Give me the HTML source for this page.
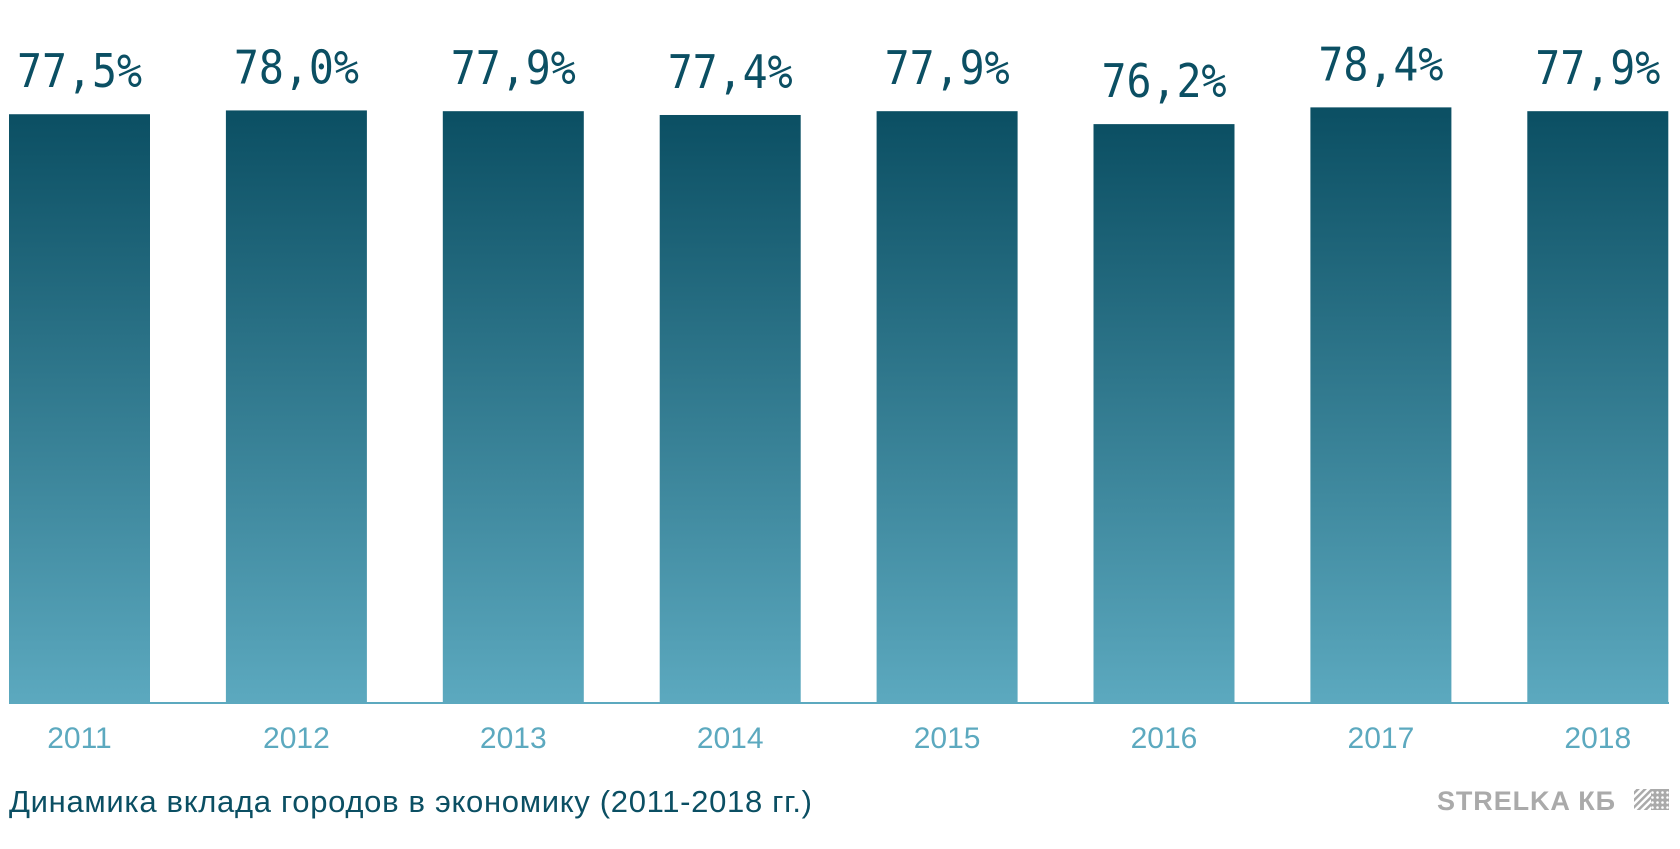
<!DOCTYPE html>
<html><head><meta charset="utf-8"><style>
html,body{margin:0;padding:0;background:#fff;}
svg{display:block;}
</style></head><body>
<svg id="chart" width="1680" height="849" viewBox="0 0 1680 849" xmlns="http://www.w3.org/2000/svg">
<defs>
<linearGradient id="g" x1="0" y1="0" x2="0" y2="1">
<stop offset="0" stop-color="#0b4f63"/>
<stop offset="1" stop-color="#5ca9bf"/>
</linearGradient>
<pattern id="hatch" width="5" height="5" patternUnits="userSpaceOnUse" patternTransform="rotate(45)">
<rect width="2.5" height="5" fill="#aaa"/>
</pattern>
<pattern id="dots" width="5" height="5" patternUnits="userSpaceOnUse">
<rect width="5" height="5" fill="#aaa"/><circle cx="2.5" cy="2.5" r="1.3" fill="#fff"/>
</pattern>
</defs>
<line x1="9" y1="703" x2="1669" y2="703" stroke="#5ca9bf" stroke-width="2"/>
<g id="bars"></g>
<text x="9" y="812" font-family="'Liberation Sans','DejaVu Sans',sans-serif" font-size="31" fill="#0b4f63" textLength="803">Динамика вклада городов в экономику (2011-2018 гг.)</text>
<text x="1437" y="810" font-family="'Liberation Sans','DejaVu Sans',sans-serif" font-weight="bold" font-size="27" fill="#aaa" textLength="178">STRELKA КБ</text>
<g>
<rect x="1634" y="789" width="17" height="21" fill="url(#hatch)"/>
<rect x="1651" y="789" width="18" height="21" fill="url(#dots)"/>
</g>
</svg>
<script>
const categories = ["2011","2012","2013","2014","2015","2016","2017","2018"];
const values = [77.5,78.0,77.9,77.4,77.9,76.2,78.4,77.9];
const valueLabels = ["77,5%","78,0%","77,9%","77,4%","77,9%","76,2%","78,4%","77,9%"];
const NS="http://www.w3.org/2000/svg";
const baseY=704, pxPerUnit=7.61, x0=9, pitch=216.9, bw=141;
const yScale=v=>baseY-v*pxPerUnit;
const xScale=i=>x0+i*pitch;
const g=document.getElementById('bars');
categories.forEach((c,i)=>{
  const x=xScale(i), y=yScale(values[i]);
  const r=document.createElementNS(NS,'rect');
  
  
  r.setAttribute('x',x);r.setAttribute('y',y);r.setAttribute('width',bw);r.setAttribute('height',baseY-y);
  r.setAttribute('fill','url(#g)');
  g.appendChild(r);
  const t=document.createElementNS(NS,'text');
  
  
  t.setAttribute('x',x+bw/2);t.setAttribute('y',y-27);
  t.setAttribute('text-anchor','middle');
  t.setAttribute('font-family',"'DejaVu Sans Mono','Liberation Mono',monospace");
  t.setAttribute('font-size','46');
  t.setAttribute('fill','#0b4f63');
  t.setAttribute('textLength','125');
  t.setAttribute('lengthAdjust','spacingAndGlyphs');
  t.textContent=valueLabels[i];
  g.appendChild(t);
  const l=document.createElementNS(NS,'text');
  
  
  l.setAttribute('x',x+bw/2);l.setAttribute('y',748);
  l.setAttribute('text-anchor','middle');
  l.setAttribute('font-family',"'Liberation Sans',sans-serif");
  l.setAttribute('font-size','30');
  l.setAttribute('fill','#5ca9bf');
  l.textContent=c;
  g.appendChild(l);
});
</script>
</body></html>
